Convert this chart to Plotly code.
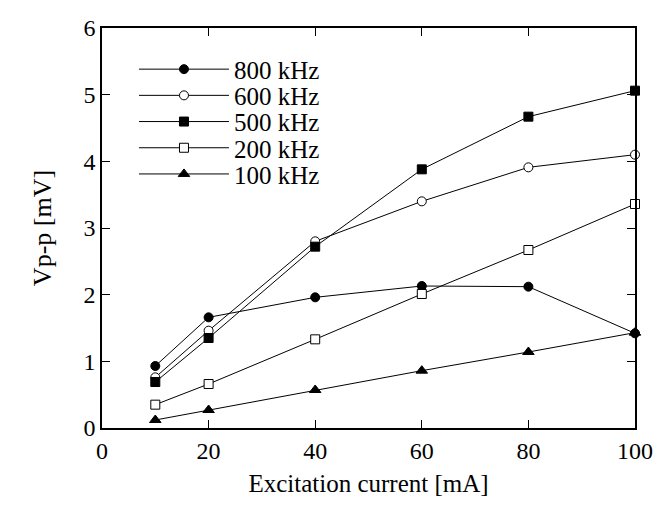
import plotly.graph_objects as go

current = [10, 20, 40, 60, 80, 100]
v800 = [0.93, 1.66, 1.96, 2.13, 2.12, 1.42]
v600 = [0.76, 1.46, 2.80, 3.40, 3.91, 4.10]
v500 = [0.69, 1.35, 2.72, 3.88, 4.67, 5.06]
v200 = [0.35, 0.66, 1.33, 2.01, 2.67, 3.36]
v100 = [0.12, 0.27, 0.57, 0.86, 1.14, 1.43]

series_names = ["800 kHz", "600 kHz", "500 kHz", "200 kHz", "100 kHz"]
series_values = [v800, v600, v500, v200, v100]
series_symbols = ["circle", "circle", "square", "square", "triangle-up"]
series_fills = ["black", "white", "black", "white", "black"]
legend_ids = ["legend", "legend2", "legend3", "legend4", "legend5"]
legend_rows_y = [0.8965, 0.831, 0.7655, 0.700, 0.6345]

font = "Liberation Serif, Times New Roman, serif"

fig = go.Figure()
for name, vals, sym, fill, lid in zip(series_names, series_values, series_symbols,
                                      series_fills, legend_ids):
    fig.add_trace(go.Scatter(
        x=current, y=vals, name=name, mode="lines+markers", legend=lid,
        showlegend=True,
        line=dict(color="black", width=1),
        marker=dict(symbol=sym, size=9 if sym != "triangle-up" else 10,
                    color=fill, line=dict(color="black", width=1)),
        cliponaxis=False,
    ))

axis_common = dict(
    showline=True, linecolor="black", linewidth=1.5, mirror="ticks",
    ticks="inside", ticklen=8, tickwidth=1, tickcolor="black",
    showgrid=False, zeroline=False,
    tickfont=dict(family=font, size=24, color="black"),
)
fig.update_xaxes(range=[0, 100], tickvals=[0, 20, 40, 60, 80, 100],
                 title=dict(text="Excitation current [mA]",
                            font=dict(family=font, size=25, color="black"),
                            standoff=12),
                 **axis_common)
fig.update_yaxes(range=[0, 6], tickvals=[0, 1, 2, 3, 4, 5, 6],
                 title=dict(text="Vp-p [mV]",
                            font=dict(family=font, size=26, color="black"),
                            standoff=24),
                 **axis_common)

layout_legends = {}
for lid, ly in zip(legend_ids, legend_rows_y):
    layout_legends[lid] = dict(
        x=0.06, y=ly, xanchor="left", yanchor="middle",
        bgcolor="rgba(0,0,0,0)", borderwidth=0,
        font=dict(family=font, size=25, color="black"),
        itemwidth=90,
    )

fig.update_layout(
    width=665, height=505,
    margin=dict(l=102, r=23, t=28, b=75),
    paper_bgcolor="white", plot_bgcolor="white",
    font=dict(family=font, color="black"),
    showlegend=True,
    **layout_legends,
)
fig.write_html("out.html",
               config={"displayModeBar": False},
               post_script="document.body.style.margin='0';document.body.style.overflow='hidden';")
